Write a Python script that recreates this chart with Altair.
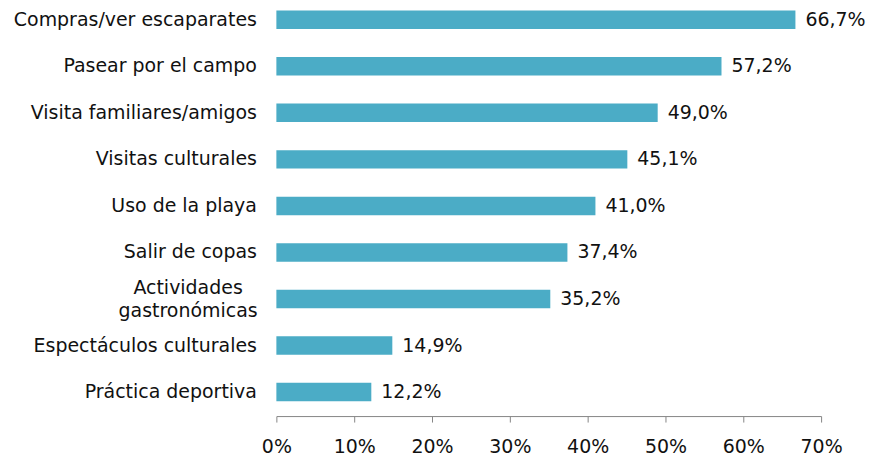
import altair as alt
import pandas as pd

categories = [
    "Compras/ver escaparates",
    "Pasear por el campo",
    "Visita familiares/amigos",
    "Visitas culturales",
    "Uso de la playa",
    "Salir de copas",
    "Actividades gastronómicas",
    "Espectáculos culturales",
    "Práctica deportiva",
]
values = [66.7, 57.2, 49.0, 45.1, 41.0, 37.4, 35.2, 14.9, 12.2]
x_ticks = [0, 10, 20, 30, 40, 50, 60, 70]

df = pd.DataFrame({"cat": categories, "v": values})

FONT = "DejaVu Sans"
TXT = "#111111"
BAR = "#4bacc6"
TWO = "datum.value == 'Actividades gastronómicas'"

y_enc = alt.Y(
    "cat:N",
    sort=categories,
    title=None,
    scale=alt.Scale(paddingInner=0.603, paddingOuter=0.18, align=0.119),
    axis=alt.Axis(
        domain=False,
        ticks=False,
        labelPadding={"condition": {"test": TWO, "value": 89}, "value": 20},
        labelAlign={"condition": {"test": TWO, "value": "center"}, "value": "right"},
        labelOffset={"condition": {"test": TWO, "value": -11}, "value": 0},
        labelFont=FONT,
        labelFontSize=19,
        labelColor=TXT,
        labelLimit=400,
        labelLineHeight=23,
        labelExpr="datum.label == 'Actividades gastronómicas' ? ['Actividades', 'gastronómicas'] : datum.label",
    ),
)

x_enc = alt.X(
    "v:Q",
    title=None,
    scale=alt.Scale(domain=[0, 70], nice=False),
    axis=alt.Axis(
        values=x_ticks,
        labelExpr="datum.value + '%'",
        grid=False,
        labelFlush=False,
        domainColor="#868686",
        tickColor="#868686",
        tickSize=6,
        labelPadding=16,
        labelFont=FONT,
        labelFontSize=19,
        labelColor=TXT,
    ),
)

bars = alt.Chart(df).mark_bar(color=BAR).encode(x=x_enc, y=y_enc)

labels = (
    alt.Chart(df)
    .transform_calculate(lbl="replace(format(datum.v, '.1f'), '.', ',') + '%'")
    .mark_text(align="left", baseline="middle", dx=10, font=FONT, fontSize=19, color=TXT)
    .encode(x="v:Q", y=alt.Y("cat:N", sort=categories), text="lbl:N")
)

chart = (
    alt.layer(bars, labels)
    .properties(width=546, height=408.5, background="white",
                padding={"left": 5, "top": 0, "right": 0, "bottom": 0})
    .configure_view(strokeWidth=0, stroke="transparent")
)

chart.save("out.html", embed_options={"renderer": "svg", "actions": False})
